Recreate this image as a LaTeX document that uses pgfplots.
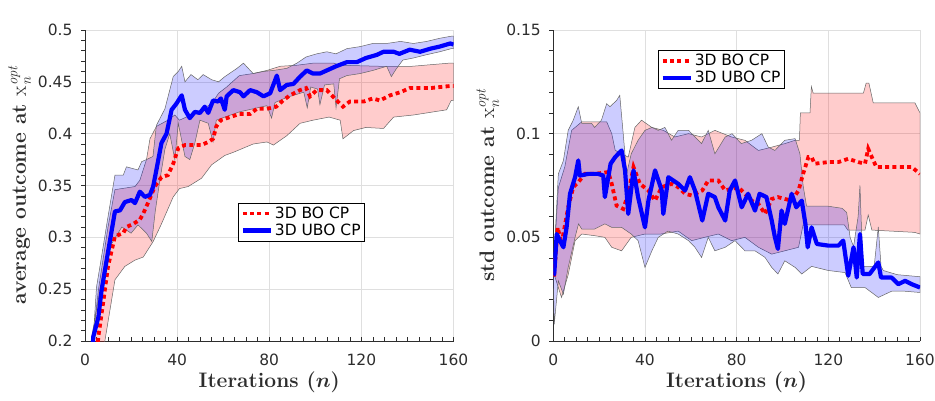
\documentclass[border=0pt]{standalone}
\usepackage{fontspec}
\usepackage{pgfplots}
\pgfplotsset{compat=1.18}
\newfontfamily\djv{DejaVu Sans}
\definecolor{axgray}{RGB}{45,45,45}
\newcommand{\xopt}{{\mdseries x}\rlap{\raisebox{-5pt}{\fontsize{14.7}{15}\selectfont\mdseries\itshape n}}\raisebox{8.5pt}{\fontsize{14.7}{15}\selectfont\mdseries\itshape opt}}
\pgfplotsset{
  mystyle/.style={
    scale only axis, height=311pt,
    xmin=0, xmax=160, xtick={0,40,80,120,160}, minor x tick num=7,
    minor y tick num=4,
    axis x line*=bottom, axis y line*=left,
    axis line style={axgray, line width=0.6pt},
    grid=major, major grid style={gray!25, line width=0.5pt},
    tick style={axgray, line width=0.6pt},
    major tick length=4pt, minor tick length=4pt,
    tick align=inside,
    y tick style={xshift=-4pt},
    tick label style={font=\fontsize{15.5}{18}\djv, text=axgray},
    /pgf/number format/assume math mode=true,
    /pgf/number format/fixed, /pgf/number format/precision=2,
    yticklabel style={xshift=-9pt},
    xticklabel style={yshift=-9pt},
    label style={font=\fontsize{21}{25}\selectfont\bfseries, text=axgray},
    xlabel style={font=\fontsize{21}{25}\selectfont\bfseries\boldmath},
    xlabel={Iterations ($n$)},
    legend style={font=\fontsize{15.5}{18}\djv, draw=black, line width=0.8pt, fill=white, inner sep=2pt, anchor=north west},
    legend cell align=left,
    legend image code/.code={\draw[##1] (0pt,0pt) -- (28pt,0pt);},
    clip=true,
  },
  redband/.style={fill=red, fill opacity=0.2, draw=black!60, line width=0.5pt, forget plot},
  blueband/.style={fill=blue, fill opacity=0.2, draw=black!60, line width=0.5pt, forget plot},
  redline/.style={red, line width=3.8pt, dash pattern=on 4pt off 3.3pt},
  blueline/.style={blue, line width=4.2pt, line join=round},
}
\begin{document}
\begin{tikzpicture}
\useasboundingbox (0,0) rectangle (935pt,400pt);
% ---------------- left axis
\begin{axis}[mystyle, at={(85pt,59pt)}, anchor=south west, width=368.5pt,
  ymin=0.2, ymax=0.5, ytick={0.2,0.25,0.3,0.35,0.4,0.45,0.5},
  ylabel={average outcome at \xopt},
  legend style={at={(0.416,0.445)}}]
\addplot[redband] coordinates {
(3,0.17) (3.6,0.204) (5.8,0.249) (10,0.310) (13,0.346) (21.7,0.349) (23.8,0.355) (26.7,0.375) (28.2,0.395) (31,0.407) (36,0.413) (39,0.418) (41,0.413) (46,0.418) (50.6,0.423) (55,0.429) (58,0.439) (61.5,0.445) (67,0.456) (73,0.458) (79,0.461) (84.7,0.465) (92,0.466) (99,0.468) (108,0.468) (111,0.466) (128,0.465) (142,0.465) (158,0.468) (160,0.468)
(160,0.432) (159,0.432) (157,0.423) (142.6,0.418) (134,0.416) (129.6,0.405) (122,0.406) (116.6,0.403) (112,0.395) (110.8,0.413) (106,0.416) (99,0.413) (93.4,0.410) (87.6,0.398) (81.8,0.389) (79,0.392) (73,0.390) (64.4,0.382) (60.7,0.379) (55,0.370) (50.6,0.357) (44.8,0.349) (41,0.347) (38.3,0.339) (33,0.312) (29.6,0.296) (25.3,0.281) (21.7,0.278) (17.3,0.272) (13,0.259) (8.7,0.201) (6,0.17)
} --cycle;
\addplot[blueband] coordinates {
(2.5,0.17) (3.6,0.204) (5,0.252) (6.5,0.272) (10,0.320) (13,0.360) (16.6,0.360) (18,0.368) (23,0.365) (24.6,0.373) (26.7,0.375) (29.5,0.378) (31,0.408) (34.7,0.424) (38.3,0.455) (40.5,0.460) (42,0.465) (43.4,0.450) (46,0.457) (49,0.452) (51.3,0.457) (55,0.452) (58,0.450) (60.7,0.455) (66,0.463) (68.8,0.468) (73,0.458) (77.5,0.460) (81.8,0.461) (87.6,0.463) (92,0.468) (96,0.474) (100.6,0.477) (105,0.479) (109,0.477) (113.7,0.482) (119.5,0.484) (125,0.487) (131,0.487) (137,0.489) (142.6,0.487) (148.4,0.489) (154,0.492) (159,0.494) (160,0.494)
(160,0.482) (159,0.482) (154,0.479) (148,0.476) (142.6,0.473) (138,0.471) (135,0.462) (133,0.455) (131,0.465) (125,0.461) (119.5,0.458) (113.7,0.456) (110.5,0.453) (109,0.425) (108,0.448) (104,0.447) (102,0.428) (101,0.443) (98,0.445) (96.5,0.425) (95,0.440) (92,0.438) (87.6,0.435) (82.5,0.430) (81,0.415) (79,0.427) (73,0.424) (67,0.421) (60.7,0.416) (57,0.413) (55.6,0.392) (53.5,0.410) (49.9,0.413) (47.7,0.391) (45.5,0.375) (43.4,0.378) (40.5,0.410) (39,0.375) (36.8,0.400) (34.7,0.385) (32.5,0.355) (30.5,0.325) (29,0.296) (26.7,0.304) (23,0.312) (20,0.304) (16,0.310) (11.6,0.294) (6.5,0.249) (2.9,0.204) (2.5,0.17)
} --cycle;
\addplot[redline] coordinates {
(5,0.185) (5.8,0.204) (8,0.239) (10,0.272) (13,0.301) (16.6,0.304) (18,0.310) (21,0.313) (23.8,0.317) (25.3,0.323) (27.5,0.334) (30.3,0.349) (33.2,0.358) (36,0.360) (38.3,0.371) (40.5,0.386) (43.4,0.389) (50.6,0.389) (53.5,0.392) (55.6,0.395) (57,0.407) (59,0.413) (63,0.416) (67,0.419) (71.7,0.419) (74.6,0.424) (79,0.424) (83,0.426) (86,0.432) (89,0.437) (93.4,0.442) (96,0.444) (97.7,0.436) (100.6,0.442) (105,0.442) (108,0.435) (112,0.426) (115,0.431) (121,0.431) (125,0.434) (128,0.432) (132.5,0.437) (137,0.440) (141,0.444) (150,0.444) (158.6,0.446) (160,0.446)
};
\addlegendentry{3D BO CP}
\addplot[blueline] coordinates {
(3,0.185) (3.6,0.204) (5.8,0.223) (7.2,0.249) (9.4,0.278) (13,0.325) (15.2,0.326) (17.3,0.334) (20.2,0.336) (21.7,0.333) (23.8,0.344) (26,0.339) (28.2,0.341) (29.6,0.349) (31,0.365) (33.2,0.391) (35.4,0.400) (37.6,0.423) (39.7,0.429) (42,0.437) (43.4,0.423) (45.5,0.415) (47.7,0.421) (49.9,0.420) (52,0.426) (53.5,0.420) (55.6,0.432) (57.8,0.431) (59,0.434) (60.7,0.423) (61.5,0.436) (64.4,0.442) (67.3,0.440) (68.8,0.436) (71.7,0.442) (74.6,0.440) (77.5,0.436) (80.4,0.439) (83.3,0.456) (84.7,0.442) (87.6,0.447) (90.5,0.448) (93.4,0.455) (96.3,0.461) (99,0.458) (102,0.458) (105,0.461) (109,0.465) (113.7,0.469) (118,0.469) (122,0.473) (126.7,0.476) (129.6,0.479) (134,0.479) (136.5,0.477) (141,0.481) (145.5,0.479) (150,0.482) (154,0.484) (158.6,0.487) (160,0.486)
};
\addlegendentry{3D UBO CP}
\end{axis}
% ---------------- right axis
\begin{axis}[mystyle, at={(553.3pt,59pt)}, anchor=south west, width=366.7pt,
  ymin=0, ymax=0.15, ytick={0,0.05,0.1,0.15},
  ylabel={std outcome at \xopt},
  legend style={at={(0.286,0.936)}}]
\addplot[redband] coordinates {
(0,0.035) (0.4,0.042) (2.2,0.074) (5,0.0839) (8,0.1016) (12.4,0.1057) (18,0.1057) (23.3,0.1057) (25.5,0.100) (27,0.092) (29.8,0.0903) (32.7,0.0887) (35.6,0.103) (38.5,0.1065) (43,0.103) (48,0.1016) (53,0.0984) (59,0.100) (64.7,0.0984) (70.5,0.1016) (77.8,0.0984) (83.6,0.0968) (89.5,0.0919) (95.3,0.0935) (101,0.0952) (105.5,0.0968) (107.4,0.0968) (107.8,0.11) (112,0.11) (112.6,0.1227) (113.4,0.1195) (135.3,0.1195) (136.5,0.1244) (137.7,0.1244) (139.6,0.1148) (157.8,0.1148) (160,0.11)
(160,0.0516) (157.6,0.0524) (139,0.0535) (137.4,0.0608) (136,0.0535) (128.5,0.0535) (127,0.056) (112,0.056) (109,0.056) (107,0.0452) (101,0.0435) (95.3,0.0419) (89.5,0.0452) (83.6,0.050) (77.8,0.0484) (72,0.0516) (66,0.050) (60.4,0.0484) (54.5,0.053) (47,0.0516) (40,0.0516) (34,0.050) (29.8,0.0435) (25.5,0.0452) (22.5,0.050) (18,0.0508) (12.4,0.0516) (9.5,0.0484) (6.5,0.032) (3.6,0.021) (2.2,0.0258) (0.4,0.032) (0,0.035)
} --cycle;
\addplot[blueband] coordinates {
(0,0.03) (0.4,0.042) (2.2,0.0806) (4.4,0.087) (6.5,0.1016) (8.7,0.1065) (10.9,0.113) (12.4,0.105) (16.7,0.105) (18,0.103) (21,0.1065) (23.3,0.1145) (24.7,0.113) (27.6,0.116) (29,0.1185) (30.5,0.100) (32,0.0806) (34,0.0903) (37,0.0968) (40,0.1016) (43,0.103) (45.8,0.1016) (48.7,0.103) (51.6,0.0968) (54.5,0.1016) (59,0.1016) (61.8,0.0984) (64.7,0.0952) (67.6,0.1016) (70.5,0.0903) (75,0.0984) (78,0.100) (82,0.0952) (86.5,0.0968) (91,0.100) (93.8,0.0935) (96.7,0.0919) (101,0.0968) (105.5,0.0976) (107.6,0.0903) (109,0.075) (110.5,0.065) (120,0.065) (126,0.064) (128,0.062) (129.5,0.05) (131,0.0455) (133,0.06) (133.8,0.075) (134.6,0.05) (135.3,0.0358) (140,0.036) (141.8,0.055) (143,0.036) (144,0.034) (150,0.032) (160,0.031)
(160,0.0234) (153.5,0.024) (147.6,0.024) (141.8,0.021) (136,0.0258) (130,0.0258) (127.3,0.033) (120,0.034) (112.7,0.036) (108.4,0.0323) (105.5,0.0355) (101,0.0387) (98,0.0323) (95.3,0.0355) (92.4,0.0403) (88,0.0435) (83.6,0.0435) (79.3,0.0484) (75,0.0452) (70.5,0.0435) (67.6,0.050) (64.7,0.0403) (61.8,0.0452) (59,0.0484) (54.5,0.0516) (50,0.053) (45.8,0.050) (43,0.0435) (40,0.0355) (37,0.0484) (34,0.0516) (29.8,0.0548) (25.5,0.0548) (22.5,0.0565) (18,0.054) (12.4,0.054) (11,0.0565) (9.5,0.050) (6.5,0.0355) (4.4,0.0226) (2.2,0.029) (0.4,0.008) (0,0.03)
} --cycle;
\addplot[redline] coordinates {
(0,0.032) (0.4,0.032) (1.9,0.0548) (3.6,0.0468) (6.5,0.0645) (8.7,0.0742) (10.9,0.0766) (13.8,0.0806) (18.2,0.0806) (24,0.0815) (25.5,0.0758) (27.6,0.0653) (30.5,0.0637) (32.7,0.0710) (35,0.0839) (37.8,0.0758) (41.5,0.0726) (44.4,0.0677) (47.3,0.0742) (51.6,0.0758) (54.5,0.0742) (57.5,0.0710) (60.4,0.0702) (65,0.0726) (67.6,0.0774) (72,0.0774) (75,0.0726) (80.7,0.0742) (83.6,0.0710) (86.5,0.0677) (89.5,0.0661) (92.4,0.0613) (95.3,0.0685) (98,0.0694) (101,0.0685) (104,0.0677) (107,0.0726) (109,0.0806) (111.3,0.0887) (112.7,0.0887) (114,0.0855) (120,0.0863) (124.4,0.0863) (128.7,0.0879) (133,0.0863) (136,0.0855) (137.4,0.0927) (139.6,0.0871) (141,0.0839) (149,0.0839) (156.4,0.0839) (160,0.0806)
};
\addlegendentry{3D BO CP}
\addplot[blueline] coordinates {
(0,0.032) (0.4,0.0323) (1.5,0.0516) (2.9,0.0484) (4.4,0.0452) (5.8,0.0548) (7.3,0.0710) (9.5,0.0790) (10.9,0.0871) (11.6,0.0798) (15.3,0.0806) (19.6,0.0806) (21.8,0.0798) (22.5,0.0694) (25,0.0855) (27,0.0887) (29.8,0.0919) (31.3,0.0823) (32.7,0.0613) (35,0.0823) (37,0.0694) (40,0.0548) (41.5,0.0677) (44.4,0.0823) (47.3,0.0726) (48,0.0613) (50.2,0.0790) (54.5,0.0758) (57.5,0.0726) (59.6,0.0790) (61.8,0.0726) (65,0.0581) (67.6,0.0710) (70.5,0.0694) (72,0.0645) (75,0.0581) (77,0.0726) (79.3,0.0774) (82.2,0.0645) (85,0.0710) (88,0.0629) (90,0.0710) (93,0.0694) (95.3,0.0581) (96.7,0.0500) (98,0.0444) (99.6,0.0629) (101,0.0565) (104,0.0710) (106,0.0645) (108.4,0.0677) (110,0.0565) (111,0.0452) (112.7,0.0548) (115,0.0468) (120,0.0460) (124.4,0.0460) (126.5,0.0484) (128.7,0.0315) (131,0.0452) (132.4,0.0306) (133.8,0.0516) (135,0.0323) (138,0.0323) (141.8,0.0379) (143,0.0306) (147.6,0.0306) (150.5,0.0274) (153.5,0.0290) (156.4,0.0274) (160,0.0258)
};
\addlegendentry{3D UBO CP}
\end{axis}
\end{tikzpicture}
\end{document}
